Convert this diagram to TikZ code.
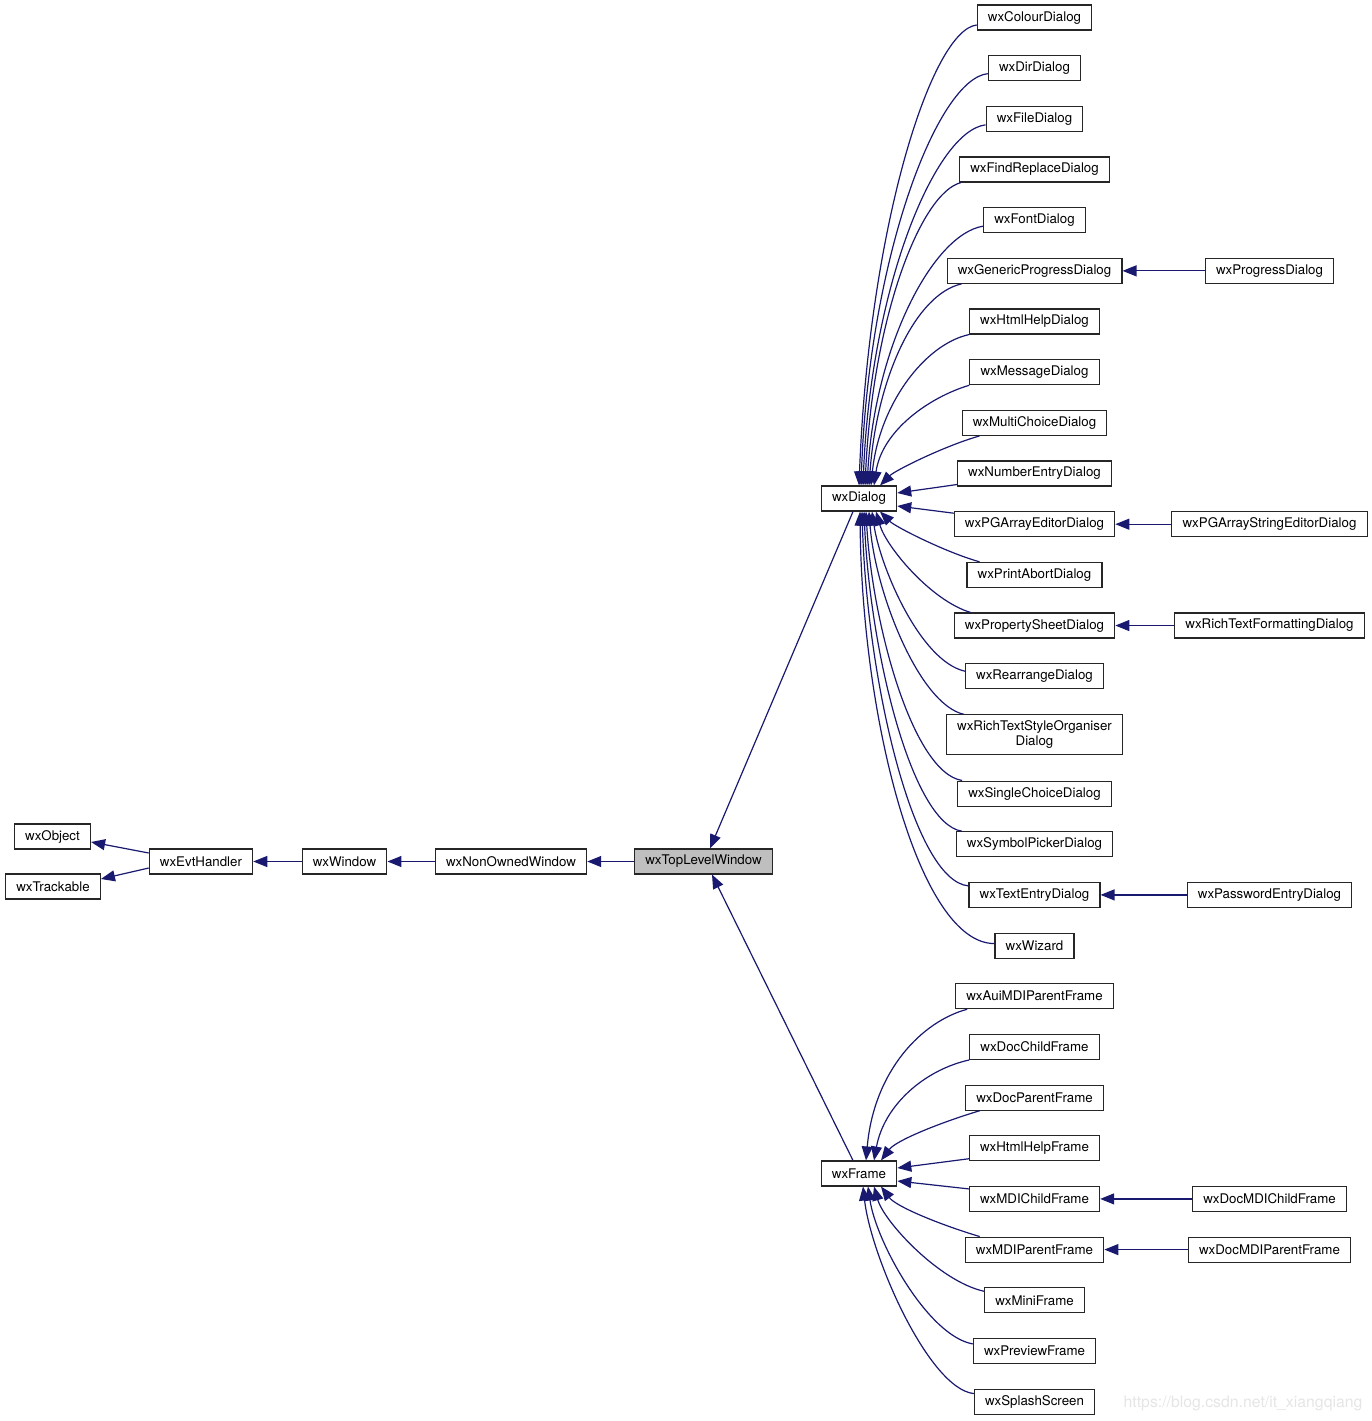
\documentclass[tikz,border=0pt]{standalone}
\usepackage{fontspec}
\setmainfont{TeX Gyre Heros}
\usetikzlibrary{arrows.meta,positioning}
\definecolor{edgeblue}{HTML}{191970}

\begin{document}
\begin{tikzpicture}[x=1pt,y=-1pt,on grid,node distance=50.67pt,
	cls/.style={draw=black!85,line width=1.1pt,inner xsep=10.7pt,inner ysep=2pt,minimum height=25pt,font=\fontsize{13.3}{15}\selectfont,align=center},
	inh/.style={draw=edgeblue,line width=1.2pt,-{Triangle[length=14pt,width=11pt]}}]
		\useasboundingbox (0,0) rectangle (1372,1421);
		
		% left
		\node[cls, fill=black!25] (tlw) at (703.5,861.5) {wxTopLevelWindow};
		\node[cls, left=192.5pt of tlw] (now) {wxNonOwnedWindow};
		\node[cls, left=166.5pt of now] (win) {wxWindow};
		\node[cls, left=143.5pt of win] (evt) {wxEvtHandler};
		\node[cls, above left=25pt and 148.5pt of evt] (obj) {wxObject};
		\node[cls, below left=25pt and 148pt of evt] (track) {wxTrackable};
		
		% middle
		\node[cls] (dlg) at (859,498.5) {wxDialog};
		\node[cls] (frm) at (859,1173.5) {wxFrame};
		
		% right column
		\node[cls] (cold) at (1034.5,17.5) {wxColourDialog};
		\node[cls, below=of cold] (dird) {wxDirDialog};
		\node[cls, below=of dird] (filed) {wxFileDialog};
		\node[cls, below=of filed] (findd) {wxFindReplaceDialog};
		\node[cls, below=of findd] (fontd) {wxFontDialog};
		\node[cls, below=of fontd] (gpd) {wxGenericProgressDialog};
		\node[cls, below=of gpd] (hhd) {wxHtmlHelpDialog};
		\node[cls, below=of hhd] (msgd) {wxMessageDialog};
		\node[cls, below=of msgd] (mcd) {wxMultiChoiceDialog};
		\node[cls, below=of mcd] (ned) {wxNumberEntryDialog};
		\node[cls, below=of ned] (pgad) {wxPGArrayEditorDialog};
		\node[cls, below=of pgad] (pad) {wxPrintAbortDialog};
		\node[cls, below=of pad] (psd) {wxPropertySheetDialog};
		\node[cls, below=of psd] (rad) {wxRearrangeDialog};
		\node[cls, minimum height=40pt, below=58.67pt of rad] (rtsd) {wxRichTextStyleOrganiser\\Dialog};
		\node[cls, below=58.67pt of rtsd] (scd) {wxSingleChoiceDialog};
		\node[cls, below=of scd] (spd) {wxSymbolPickerDialog};
		\node[cls, below=of spd] (ted) {wxTextEntryDialog};
		\node[cls, below=of ted] (wiz) {wxWizard};
		\node[cls, below=of wiz] (amf) {wxAuiMDIParentFrame};
		\node[cls, below=of amf] (dcf) {wxDocChildFrame};
		\node[cls, below=of dcf] (dpf) {wxDocParentFrame};
		\node[cls, below=of dpf] (hhf) {wxHtmlHelpFrame};
		\node[cls, below=of hhf] (mcf) {wxMDIChildFrame};
		\node[cls, below=of mcf] (mpf) {wxMDIParentFrame};
		\node[cls, below=of mpf] (minif) {wxMiniFrame};
		\node[cls, below=of minif] (pvf) {wxPreviewFrame};
		\node[cls, below=of pvf] (splash) {wxSplashScreen};
		
		% far right
		\node[cls, right=235pt of gpd] (progd) {wxProgressDialog};
		\node[cls, right=235pt of pgad] (pgasd) {wxPGArrayStringEditorDialog};
		\node[cls, right=235pt of psd] (rtfd) {wxRichTextFormattingDialog};
		\node[cls, right=235pt of ted] (ped) {wxPasswordEntryDialog};
		\node[cls, right=235pt of mcf] (dmcf) {wxDocMDIChildFrame};
		\node[cls, right=235pt of mpf] (dmpf) {wxDocMDIParentFrame};
		
		% watermark
		\node[font=\fontsize{15.8}{17}\selectfont, text=black!10] (mark) at (1243,1403) {https://blog.csdn.net/it\_xiangqiang};
		
		% left
		\draw[inh] (tlw.west) -- (now.east);
		\draw[inh] (now.west) -- (win.east);
		\draw[inh] (win.west) -- (evt.east);
		\draw[inh] ([yshift=8.5pt]evt.west) -- ([yshift=-5.5pt]obj.east);
		\draw[inh] ([yshift=-6.5pt]evt.west) -- ([yshift=7.5pt]track.east);
		\draw[inh] ([xshift=-6pt]dlg.south) -- ([xshift=6.5pt]tlw.north);
		\draw[inh] ([xshift=-6pt]frm.north) -- ([xshift=8.5pt]tlw.south);
		
		% dialogs
		\draw[inh] ([yshift=-7.5pt]cold.west) .. controls +(-45,5) and +(10,-260) .. ([xshift=0pt]dlg.north);
		\draw[inh] ([yshift=-5.5pt]dird.west) .. controls +(-50,5) and +(8,-230) .. ([xshift=2pt]dlg.north);
		\draw[inh] ([yshift=-6pt]filed.west) .. controls +(-50,6) and +(8,-200) .. ([xshift=4pt]dlg.north);
		\draw[inh] ([xshift=2pt]findd.south west) .. controls +(-40,10) and +(8,-170) .. ([xshift=6pt]dlg.north);
		\draw[inh] ([yshift=-6pt]fontd.west) .. controls +(-50,8) and +(8,-140) .. ([xshift=8pt]dlg.north);
		\draw[inh] ([xshift=15pt]gpd.south west) .. controls +(-45,10) and +(8,-110) .. ([xshift=10pt]dlg.north);
		\draw[inh] (hhd.south west) .. controls +(-45,10) and +(8,-80) .. ([xshift=12pt]dlg.north);
		\draw[inh] (msgd.south west) .. controls +(-40,12) and +(8,-55) .. ([xshift=15pt]dlg.north);
		\draw[inh] ([xshift=18pt]mcd.south west) .. controls +(-35,10) and +(15,-15) .. ([xshift=21pt]dlg.north);
		\draw[inh] ([yshift=-11pt]ned.west) -- ([yshift=5.5pt]dlg.east);
		\draw[inh] ([yshift=11pt]pgad.west) -- ([yshift=-7.5pt]dlg.east);
		\draw[inh] ([xshift=13pt]pad.north west) .. controls +(-35,-10) and +(15,15) .. ([xshift=21pt]dlg.south);
		\draw[inh] ([xshift=17pt]psd.north west) .. controls +(-40,-12) and +(10,35) .. ([xshift=17pt]dlg.south);
		\draw[inh] ([yshift=5pt]rad.west) .. controls +(-45,-10) and +(8,55) .. ([xshift=13pt]dlg.south);
		\draw[inh] ([xshift=18pt]rtsd.north west) .. controls +(-45,-10) and +(6,80) .. ([xshift=10pt]dlg.south);
		\draw[inh] ([xshift=5pt]scd.north west) .. controls +(-50,-8) and +(6,110) .. ([xshift=7pt]dlg.south);
		\draw[inh] ([xshift=6pt]spd.north west) .. controls +(-50,-8) and +(6,140) .. ([xshift=5pt]dlg.south);
		\draw[inh] ([yshift=9pt]ted.west) .. controls +(-55,-5) and +(5,170) .. ([xshift=3pt]dlg.south);
		\draw[inh] ([yshift=2pt]wiz.west) .. controls +(-75,0) and +(2,210) .. ([xshift=1pt]dlg.south);
		
		% frames
		\draw[inh] ([xshift=12pt]amf.south west) .. controls +(-45,12) and +(8,-90) .. ([xshift=7pt]frm.north);
		\draw[inh] (dcf.south west) .. controls +(-45,10) and +(10,-55) .. ([xshift=15pt]frm.north);
		\draw[inh] ([xshift=15pt]dpf.south west) .. controls +(-40,12) and +(15,-20) .. ([xshift=22pt]frm.north);
		\draw[inh] ([yshift=-10.5pt]hhf.west) -- ([yshift=5.5pt]frm.east);
		\draw[inh] ([yshift=10pt]mcf.west) -- ([yshift=-7.5pt]frm.east);
		\draw[inh] ([xshift=15pt]mpf.north west) .. controls +(-40,-12) and +(15,20) .. ([xshift=22pt]frm.south);
		\draw[inh] ([yshift=9pt]minif.west) .. controls +(-45,-10) and +(10,35) .. ([xshift=15pt]frm.south);
		\draw[inh] ([yshift=7pt]pvf.west) .. controls +(-45,-8) and +(8,55) .. ([xshift=9pt]frm.south);
		\draw[inh] ([yshift=8pt]splash.west) .. controls +(-45,-5) and +(8,70) .. ([xshift=4pt]frm.south);
		
		% far right
		\draw[inh] (progd.west) -- (gpd.east);
		\draw[inh] (pgasd.west) -- (pgad.east);
		\draw[inh] (rtfd.west) -- (psd.east);
		\draw[inh] (ped.west) -- (ted.east);
		\draw[inh] (dmcf.west) -- (mcf.east);
		\draw[inh] (dmpf.west) -- (mpf.east);
\end{tikzpicture}
\end{document}
